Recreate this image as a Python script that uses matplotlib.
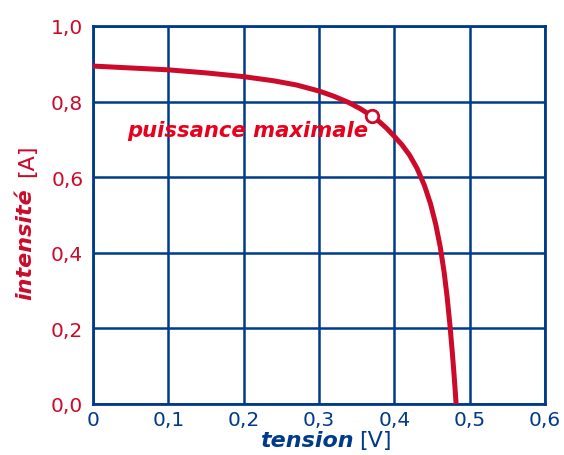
import matplotlib.pyplot as plt

# I-V curve
tension = [0.0, 0.05, 0.1, 0.15, 0.2, 0.24, 0.27, 0.3, 0.32, 0.34, 0.355, 0.37,
           0.38, 0.39, 0.4, 0.41, 0.42, 0.43, 0.44, 0.448, 0.455, 0.461, 0.466,
           0.470, 0.474, 0.477, 0.479, 0.481, 0.482]
intensite = [0.894, 0.889, 0.884, 0.876, 0.866, 0.855, 0.844, 0.828, 0.814, 0.797, 0.781, 0.762,
             0.747, 0.729, 0.708, 0.686, 0.659, 0.624, 0.578, 0.530, 0.475, 0.415, 0.350,
             0.285, 0.205, 0.135, 0.085, 0.030, 0.0]
pmax = (0.3705, 0.761)

xticks = [0, 0.1, 0.2, 0.3, 0.4, 0.5, 0.6]
xlabels = ['0', '0,1', '0,2', '0,3', '0,4', '0,5', '0,6']
yticks = [0, 0.2, 0.4, 0.6, 0.8, 1.0]
ylabels = ['0,0', '0,2', '0,4', '0,6', '0,8', '1,0']

blue = '#003a8a'
red = '#cc0a2a'
red2 = '#e8001c'

fig = plt.figure(figsize=(5.64, 4.56), dpi=100)
ax = fig.add_axes([93/564, 51/456, 452/564, 378/456])

ax.plot(tension, intensite, color=red, lw=3.6, solid_capstyle='butt',
        solid_joinstyle='round', zorder=3)
ax.plot(*pmax, 'o', ms=9, mfc='white', mec=red, mew=2, zorder=4)
ax.text(0.365, 0.709, 'puissance maximale', color=red2, fontsize=15.2,
        fontweight='bold', style='italic', ha='right', va='baseline', zorder=5)

ax.set_xlim(0, 0.6)
ax.set_ylim(0, 1.0)
ax.set_xticks(xticks)
ax.set_xticklabels(xlabels)
ax.set_yticks(yticks)
ax.set_yticklabels(ylabels)
ax.tick_params(length=0, labelsize=14.5, pad=7)
ax.tick_params(axis='x', colors=blue, pad=4)
ax.tick_params(axis='y', colors=red)
ax.grid(True, color=blue, lw=1.8)
for s in ax.spines.values():
    s.set_color(blue)
    s.set_linewidth(2)

# axis titles: bold italic word + normal unit
fig.text(307/564, 9/456, 'tension', color=blue, fontsize=16, fontweight='bold',
         style='italic', ha='center', va='baseline')
fig.text(375/564, 9/456, '[V]', color=blue, fontsize=16, ha='center', va='baseline')
fig.text(25/564, 1 - 244/456, 'intensité', color=red, fontsize=16, fontweight='bold',
         style='italic', rotation=90, ha='center', va='center')
fig.text(27/564, 1 - 161/456, '[A]', color=red, fontsize=16, rotation=90,
         ha='center', va='center')

fig.savefig('out.png', dpi=100)
